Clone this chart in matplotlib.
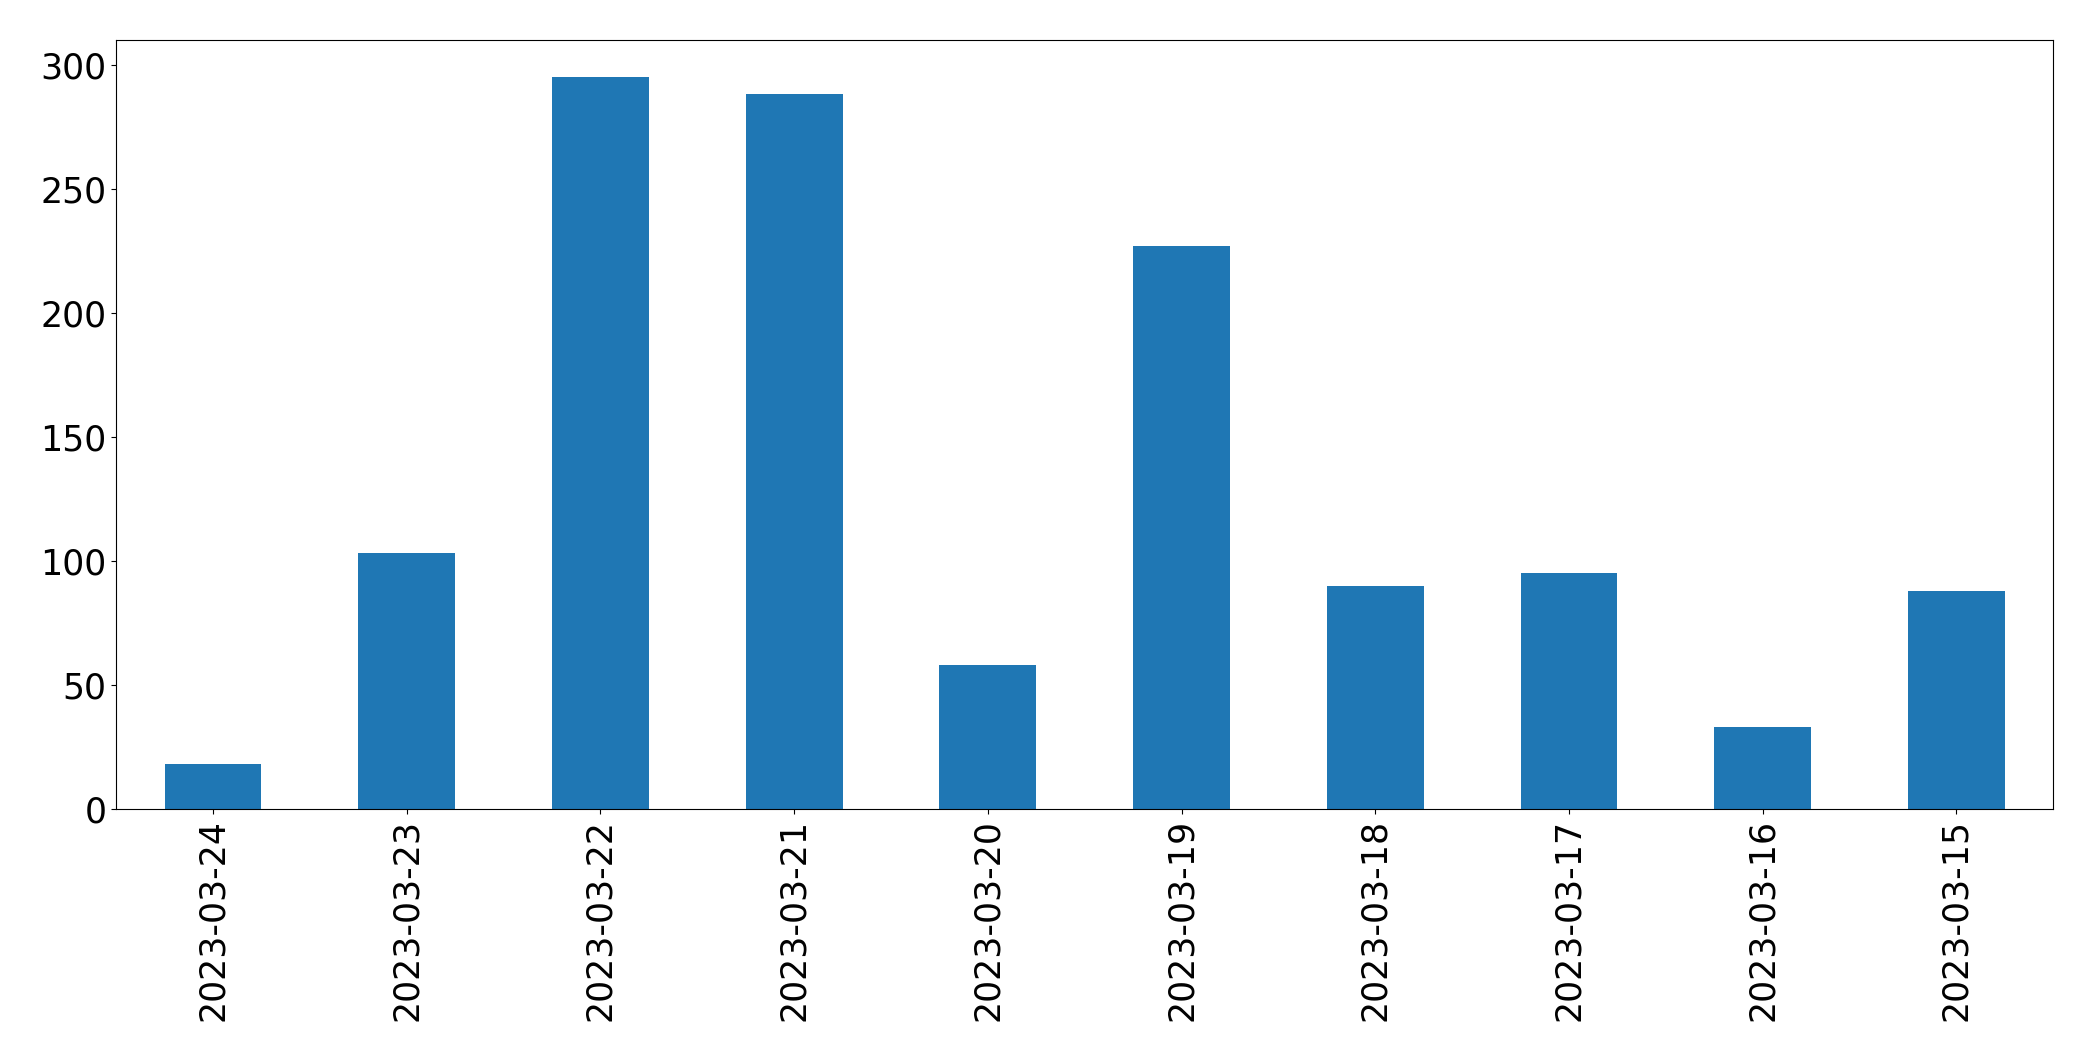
import matplotlib
matplotlib.use("Agg")
import matplotlib.pyplot as plt
import numpy as np

dates = ["2023-03-24", "2023-03-23", "2023-03-22", "2023-03-21", "2023-03-20",
         "2023-03-19", "2023-03-18", "2023-03-17", "2023-03-16", "2023-03-15"]
counts = [18, 103, 295, 288, 58, 227, 90, 95, 33, 88]

fig = plt.figure(figsize=(20.93, 10.61), dpi=100)
ax = fig.add_axes([0.0555, 0.2375, 0.9255, 0.7245])
x = np.arange(len(dates))
ax.bar(x, counts, width=0.5, color="#1f77b4")
ax.set_xlim(-0.25 - 0.25, len(dates) - 1 + 0.5)
ax.set_xticks(x)
ax.set_xticklabels(dates, rotation=90)
ax.tick_params(axis="both", labelsize=25)
fig.savefig("out.png", dpi=100)
